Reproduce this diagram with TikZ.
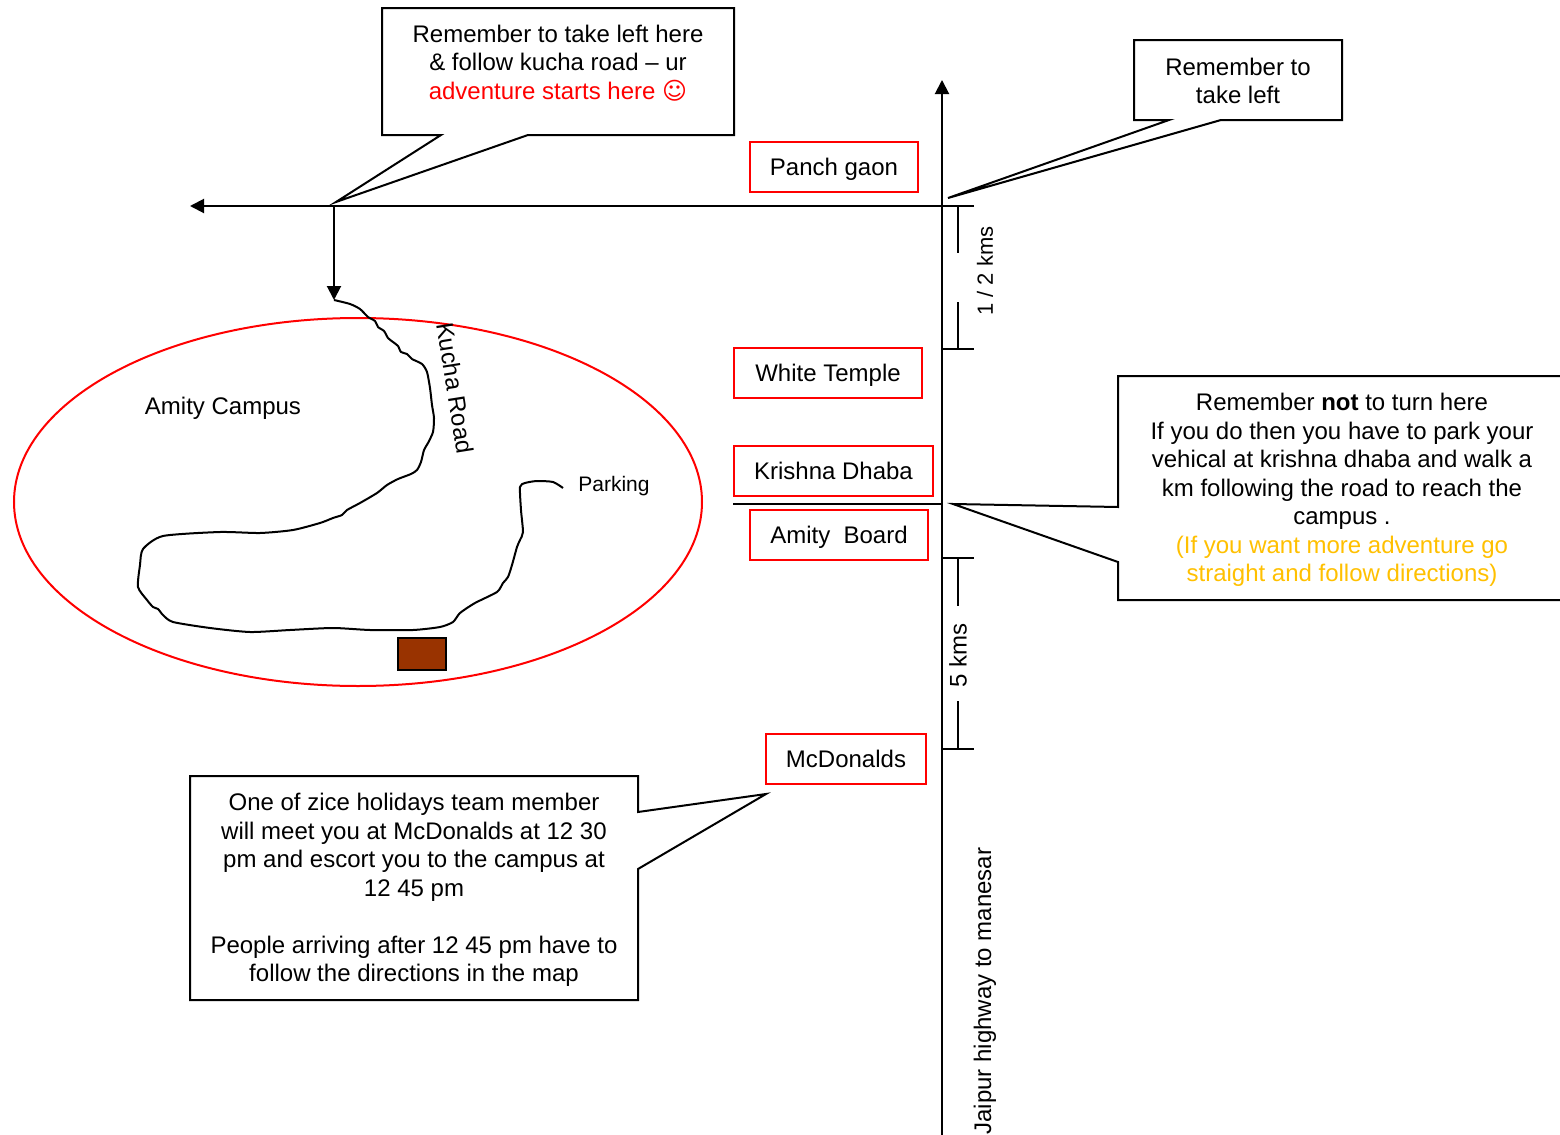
\documentclass[tikz,border=0pt]{standalone}
\usepackage{fontspec}
\setmainfont{Liberation Sans}
\newfontfamily\symfont{DejaVu Sans}
\usepackage{tikz}
\usetikzlibrary{arrows.meta}
\definecolor{advred}{RGB}{255,0,0}
\definecolor{advgold}{RGB}{255,192,0}
\definecolor{hallbrown}{RGB}{153,51,0}
\tikzset{
  road/.style={line width=1pt},
  roadtip/.style={road,-{Triangle[length=7pt,width=7pt]}},
  place/.style={draw=advred,line width=1pt,minimum height=25pt,inner sep=0pt,text height=9.5pt,text depth=1pt},
  callout/.style={draw,line width=1pt,fill=white,line join=miter},
  note/.style={align=center,inner sep=0pt}
}
\begin{document}
\begin{tikzpicture}[x=0.5pt,y=-0.5pt,font=\fontsize{12}{14.25}\selectfont]
\clip (0,0) rectangle (1560,1135);
\fill[white] (0,0) rectangle (1560,1135);
\coordinate (hwytop) at (942,80);
\coordinate (hwybot) at (942,1140);
\coordinate (east) at (974,206);
\coordinate (west) at (190,206);
\coordinate (turn) at (334,206);
\coordinate (kstart) at (334,300);
\coordinate (dhabaw) at (733,504);
\coordinate (dhabae) at (942,504);
\draw[roadtip] (hwybot) -- (hwytop);
\draw[roadtip] (east) -- (west);
\draw[roadtip] (turn) -- (kstart);
\draw[road] (dhabaw) -- (dhabae);
\draw[road] (942,349) -- (974,349);
\draw[road] (958,206) -- (958,253);
\draw[road] (958,302) -- (958,349);
\draw[road] (942,558) -- (974,558);
\draw[road] (958,558) -- (958,606);
\draw[road] (958,701) -- (958,749);
\draw[road] (942,749) -- (974,749);
\node[rotate=90,font=\fontsize{11}{13}\selectfont] (half) at (985,271) {1 / 2 kms};
\node[rotate=90] (five) at (958,655) {5 kms};
\node[rotate=90] (hwy) at (985,991) {Jaipur highway to manesar};
\draw[advred,line width=1pt] (358,502) ellipse [x radius=172pt,y radius=92pt];
\draw[road,line join=round] plot[smooth,tension=0.4] coordinates {(kstart) (350,304) (360,309) (368,317)
  (375,321) (378,327) (384,331) (388,338) (393,342) (398,346) (401,352) (407,354) (412,359) (422,364)
  (427,372) (430,388) (432,405) (434,418) (433,432) (428,443) (424,450) (421,462) (417,470) (411,474)
  (398,479) (387,485) (377,493) (360,503) (347,510) (342,515) (333,518) (320,523) (293,530) (260,533)
  (220,532) (163,536) (143,549) (140,565) (138,587) (147,600) (153,607) (158,609) (163,615) (173,622)
  (210,628) (250,632) (290,630) (333,628) (370,630) (413,630) (440,627) (453,622) (460,613) (475,603)
  (497,592) (503,583) (508,577) (512,565) (517,547) (520,540) (523,532) (521,510) (520,487) (525,483)
  (537,481) (553,482) (563,488)};
\node[draw,line width=1pt,fill=hallbrown,minimum width=24pt,minimum height=16pt,inner sep=0pt] (hall) at (422,654) {};
\node (campus) at (223,408) {Amity Campus};
\node[font=\fontsize{10.5}{12}\selectfont] (parking) at (614,486) {Parking};
\node[rotate=-81] (kucha) at (455,388) {Kucha Road};
\node[place,minimum width=84pt] (panch) at (834,167) {Panch gaon};
\node[place,minimum width=94pt] (temple) at (828,373) {White Temple};
\node[place,minimum width=99.5pt] (dhaba) at (833.5,471) {Krishna Dhaba};
\node[place,minimum width=89pt] (board) at (839,535) {Amity\ \ Board};
\node[place,minimum width=80pt] (mcd) at (846,759) {McDonalds};
\coordinate (tipturn) at (336,202);
\coordinate (tipleft) at (948,198);
\coordinate (tipnot) at (953,504);
\coordinate (tipmcd) at (766,794);
\draw[callout] (382,8) -- (734,8) -- (734,135) -- (528,135) -- (tipturn) -- (441,135) -- (382,135) -- cycle;
\node[note] (turnnote) at (558,63) {Remember to take left here\\ \& follow kucha road -- ur\\
  \textcolor{advred}{adventure starts here {\symfont ☺}}};
\draw[callout] (1134,40) -- (1342,40) -- (1342,120) -- (1221,120) -- (tipleft) -- (1169,120) -- (1134,120) -- cycle;
\node[note] (leftnote) at (1238,81) {Remember to\\ take left};
\draw[callout] (1118,376) -- (1600,376) -- (1600,600) -- (1118,600) -- (1118,562) -- (tipnot) -- (1118,507) -- cycle;
\node[note] (notnote) at (1342,490) {Remember \textbf{not} to turn here\\ If you do then you have to park your\\
  vehical at krishna dhaba and walk a\\ km following the road to reach the\\ campus .\\
  \textcolor{advgold}{(If you want more adventure go}\\ \textcolor{advgold}{straight and follow directions)}};
\draw[callout] (190,776) -- (638,776) -- (638,812) -- (tipmcd) -- (638,869) -- (638,1000) -- (190,1000) -- cycle;
\node[note] (mcdnote) at (414,890) {One of zice holidays team member\\ will meet you at McDonalds at 12 30\\
  pm and escort you to the campus at\\ 12 45 pm\\[14.25pt] People arriving after 12 45 pm have to\\
  follow the directions in the map};
\end{tikzpicture}
\end{document}
